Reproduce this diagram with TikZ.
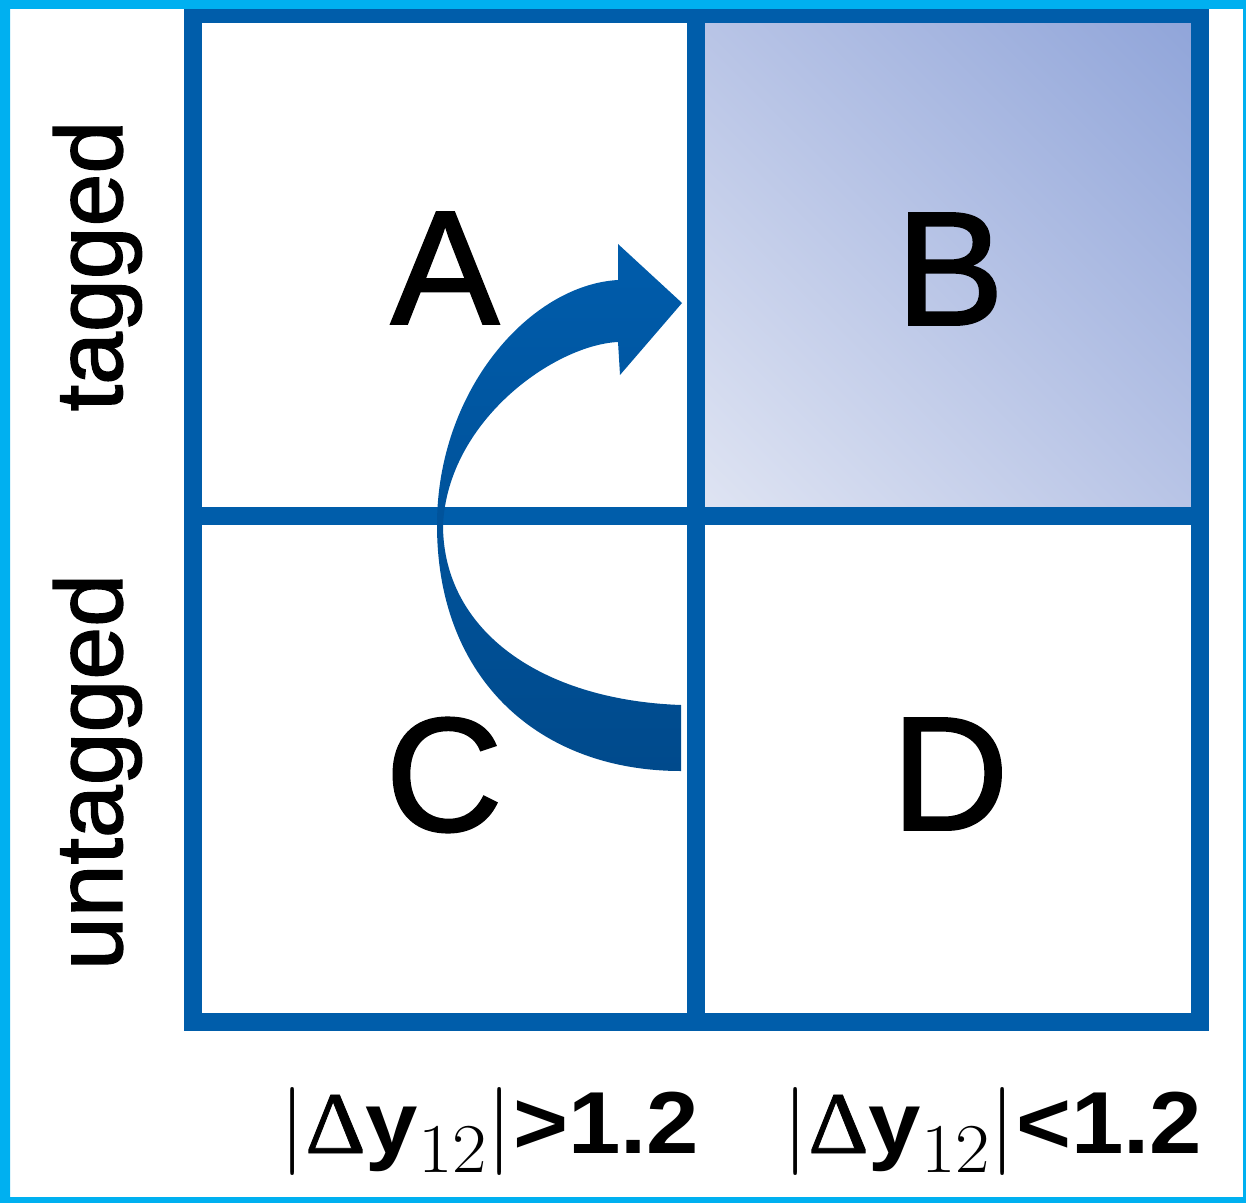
\documentclass[tikz,border=0pt]{standalone}
\usepackage{fix-cm}
\usepackage{graphicx}
\usepackage{fontspec}
\newfontfamily\labelfont{Liberation Sans}
\newfontfamily\cellfont[FakeBold=1.5]{Liberation Sans}
\newfontfamily\deltafont[FakeBold=0.8]{Liberation Serif}
\usetikzlibrary{positioning,shadings}
\definecolor{gridblue}{HTML}{005DAA}
\definecolor{framecyan}{HTML}{00B0F0}
\definecolor{arrowtop}{HTML}{005CAB}
\definecolor{arrowbot}{HTML}{004A8C}
\definecolor{cellBlight}{HTML}{E0E5F3}
\definecolor{cellBmid}{HTML}{B8C4E6}
\definecolor{cellBdark}{HTML}{8FA4D9}
\newcommand{\dysub}{\raisebox{-9.5pt}{\rmfamily\fontsize{35}{35}\selectfont 12}}
\newcommand{\dyvar}{$|${\deltafont Δ}\textbf{y}\dysub$|$}
\newcommand{\dywide}[1]{\scalebox{1.07}[1]{#1}}
\tikzset{
  gridline/.style={draw=gridblue,line width=9pt},
  cellletter/.style={font=\cellfont\fontsize{81}{81}\selectfont,inner sep=0pt},
  rowlabel/.style={font=\cellfont\fontsize{47.5}{47.5}\selectfont,rotate=90,
            anchor=base,inner sep=0pt},
  collabel/.style={font=\labelfont\fontsize{44}{44}\selectfont,anchor=base,inner sep=0pt},
  movearrow/.style={top color=arrowtop,bottom color=arrowbot},
}

\begin{document}
\begin{tikzpicture}[x=0.5pt,y=-0.5pt]
  \useasboundingbox (0,0) rectangle (1246,1203);
  % shaded cell B
  \shade[upper left=cellBmid,upper right=cellBdark,lower left=cellBlight,
         lower right=cellBmid] (696,14) rectangle (1200,516);
  % grid
  \draw[gridline] (193,14) rectangle (1200,1022);
  \draw[gridline] (696,14) -- (696,1022);
  \draw[gridline] (193,516) -- (1200,516);
  % outer frame
  \fill[framecyan,even odd rule] (0,0) rectangle (1246,1203) (10,9) rectangle (1243,1197);
  % cells
  \node[cellletter] (cellA) at (445,268) {A};
  \node[cellletter] (cellB) at (950,269) {B};
  \node[cellletter] (cellC) at (444,775) {C};
  \node[cellletter] (cellD) at (950,774) {D};
  % curved arrow C -> B
  \coordinate (arrtail) at (681,738);
  \coordinate (arrtip) at (682,303);
  \shade[movearrow] (681,771) .. controls (540,771) and (437,680) .. (437,525)
    .. controls (437,390) and (530,285) .. (618,280) -- (618,244) -- (arrtip)
    -- (620,375) -- (618,342) .. controls (555,345) and (448,420) .. (443,525)
    .. controls (443,630) and (540,700) .. (681,705) -- cycle;
  % axis labels
  \node[rowlabel] (tagged) at (122,266) {tagged};
  \node[rowlabel] (untagged) at (122,772) {untagged};
  \node[collabel] (bigdy) at (489,1153) {\dywide{\dyvar\textbf{>1.2}}};
  \node[collabel] (smalldy) at (992,1153) {\dywide{\dyvar\textbf{<1.2}}};
\end{tikzpicture}
\end{document}
